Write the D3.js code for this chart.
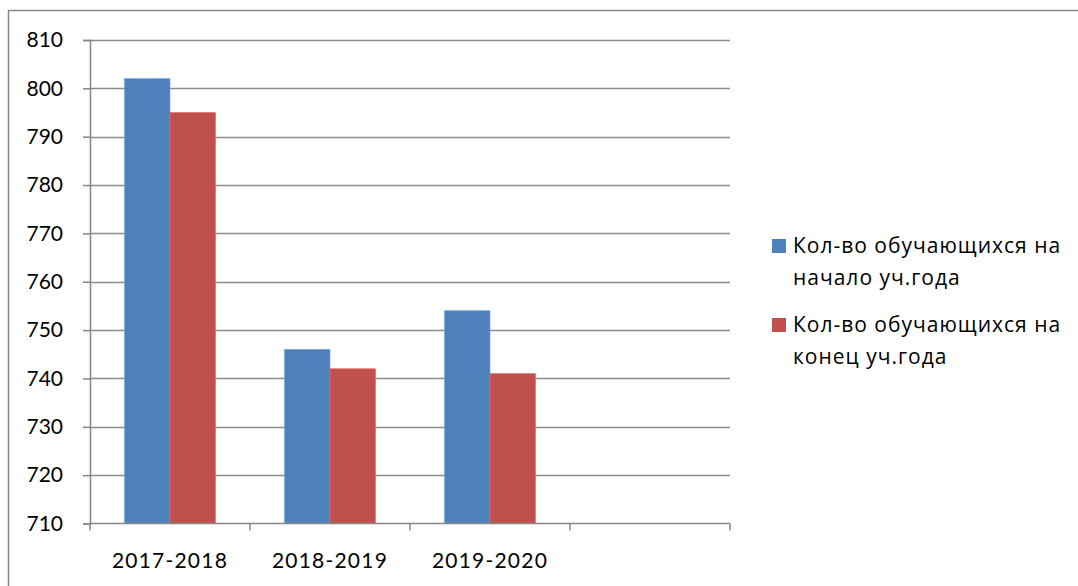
<!DOCTYPE html>
<html>
<head>
<meta charset="utf-8">
<script src="https://cdn.jsdelivr.net/npm/d3@7"></script>
<style>
  body { margin: 0; background: #fff; }
  text { fill: #000; }
</style>
</head>
<body>
<div id="chart"></div>
<script>
const width = 1078;
const height = 586;

// data
const years = ["2017-2018", "2018-2019", "2019-2020", ""];
const startVals = [802, 746, 754, null];
const endVals = [795, 742, 741, null];
const seriesNames = ["Кол-во обучающихся на начало уч.года", "Кол-во обучающихся на конец уч.года"];
const legendLines = [["Кол-во обучающихся на", "начало уч.года"], ["Кол-во обучающихся на", "конец уч.года"]];
const colors = ["#4F81BD", "#C0504D"];
const yTicks = [710, 720, 730, 740, 750, 760, 770, 780, 790, 800, 810];

const margin = { top: 40, left: 90, right: 348, bottom: 62 };

const svg = d3.select("#chart").append("svg")
    .attr("width", width)
    .attr("height", height)
    .style("font-family", "Lato, sans-serif");

// outer frame
svg.append("rect")
    .attr("x", 8.5).attr("y", 10.5)
    .attr("width", 1200).attr("height", 700)
    .attr("fill", "none")
    .attr("stroke", "#868686")
    .attr("stroke-width", 1.5);

const x = d3.scaleBand()
    .domain(years.map((d, i) => i))
    .range([margin.left, width - margin.right])
    .paddingInner(0).paddingOuter(0);

const y = d3.scaleLinear()
    .domain([710, 810])
    .range([height - margin.bottom - 0.5, margin.top]);

const inner = d3.scaleBand()
    .domain([0, 1])
    .range([0, x.bandwidth()])
    .paddingInner(0)
    .paddingOuter(0.76);

// gridlines
svg.selectAll(".grid")
    .data(yTicks.slice(1))
    .enter()
    .append("line")
    .attr("class", "grid")
    .attr("x1", margin.left)
    .attr("x2", width - margin.right)
    .attr("y1", d => Math.round(y(d)) + 0.5)
    .attr("y2", d => Math.round(y(d)) + 0.5)
    .attr("stroke", "#8c8c8c")
    .attr("stroke-width", 1.3);

// bars
const rows = years.map((d, i) => ({ i: i, vals: [startVals[i], endVals[i]] }));
const groups = svg.selectAll(".cat")
    .data(rows)
    .enter()
    .append("g")
    .attr("class", "cat")
    .attr("transform", d => `translate(${x(d.i)},0)`);

groups.selectAll("rect")
    .data(d => d.vals.map((v, k) => ({ v: v, k: k })).filter(e => e.v != null))
    .enter()
    .append("rect")
    .attr("x", d => inner(d.k))
    .attr("width", inner.bandwidth())
    .attr("y", d => y(d.v))
    .attr("height", d => y(710) - y(d.v))
    .attr("fill", d => colors[d.k])
    .attr("stroke", d => d3.color(colors[d.k]).brighter(0.6))
    .attr("stroke-width", 0.6);

// y axis
const yAxis = svg.append("g")
    .attr("transform", `translate(${margin.left},0)`)
    .call(d3.axisLeft(y).tickValues(yTicks).tickSize(7).tickPadding(20).tickFormat(d3.format("d")));
yAxis.select(".domain").attr("stroke", "#868686").attr("stroke-width", 1.5);
yAxis.selectAll(".tick line").attr("stroke", "#868686").attr("stroke-width", 1.5);
yAxis.selectAll(".tick text")
    .style("font-family", "Lato, sans-serif")
    .style("font-size", "21px")
    .attr("fill", "#000");

// x axis
const xAxis = svg.append("g")
    .attr("transform", `translate(0,${y(710)})`);
xAxis.append("line")
    .attr("x1", margin.left).attr("x2", width - margin.right)
    .attr("stroke", "#868686").attr("stroke-width", 1.5);
xAxis.selectAll(".xt")
    .data(d3.range(years.length + 1))
    .enter()
    .append("line")
    .attr("class", "xt")
    .attr("x1", d => margin.left + d * x.bandwidth())
    .attr("x2", d => margin.left + d * x.bandwidth())
    .attr("y1", 0).attr("y2", 7)
    .attr("stroke", "#868686").attr("stroke-width", 1.5);
xAxis.selectAll(".xl")
    .data(years)
    .enter()
    .append("text")
    .attr("class", "xl")
    .attr("x", (d, i) => x(i) + x.bandwidth() / 2)
    .attr("y", 44)
    .attr("text-anchor", "middle")
    .style("font-family", "Lato, sans-serif")
    .style("font-size", "21px")
    .attr("letter-spacing", "1.2px")
    .text(d => d);

// legend
const legend = svg.append("g");
const legendY = [239, 318];
legendLines.forEach((lines, k) => {
    legend.append("rect")
        .attr("x", 772).attr("y", legendY[k])
        .attr("width", 14).attr("height", 14)
        .attr("fill", colors[k]);
    lines.forEach((t, j) => {
        legend.append("text")
            .attr("x", 793)
            .attr("y", legendY[k] + 14 + j * 32)
            .style("font-family", "'Open Sans', sans-serif")
            .style("font-size", "21px")
            .attr("letter-spacing", "1px")
            .text(t);
    });
});
</script>
</body>
</html>
